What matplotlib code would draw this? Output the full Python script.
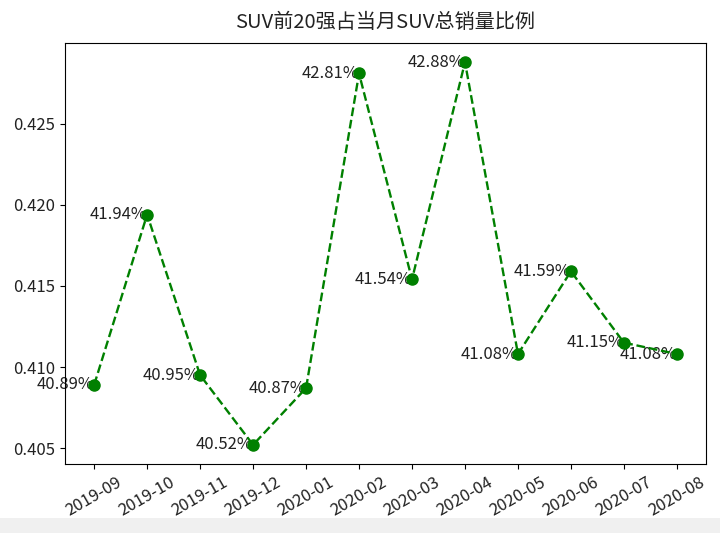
import matplotlib
matplotlib.use('Agg')
import matplotlib.pyplot as plt
from matplotlib.patches import Rectangle

plt.rcParams['font.family'] = ['Noto Sans CJK SC', 'DejaVu Sans']
plt.rcParams['axes.unicode_minus'] = False

months = ['2019-09', '2019-10', '2019-11', '2019-12', '2020-01', '2020-02',
          '2020-03', '2020-04', '2020-05', '2020-06', '2020-07', '2020-08']
ratios = [0.4089, 0.4194, 0.4095, 0.4052, 0.4087, 0.4281,
          0.4154, 0.4288, 0.4108, 0.4159, 0.4115, 0.4108]

fig = plt.figure(figsize=(7.2, 5.33), dpi=100)
ax = fig.add_axes([0.0903, 0.1295, 0.8903, 0.7898])

ax.plot(months, ratios, color='green', linestyle='--', marker='o',
        linewidth=1.7, markersize=8, zorder=2)
for m, r in zip(months, ratios):
    ax.text(m, r, f'{r * 100:.2f}%', ha='right', va='center', fontsize=12,
            color='#222222', zorder=1)

ax.set_title('SUV前20强占当月SUV总销量比例', fontsize=14.5, pad=11, color='#222222')
ax.set_yticks([0.405, 0.410, 0.415, 0.420, 0.425])
ax.set_yticklabels(['0.405', '0.410', '0.415', '0.420', '0.425'])
ax.tick_params(axis='both', labelsize=12, labelcolor='#222222')
plt.setp(ax.get_xticklabels(), rotation=30)

# grey strip at the bottom of the screenshot
fig.patches.append(Rectangle((0, 0), 1, 0.028, transform=fig.transFigure,
                             facecolor='#f0f0f0', edgecolor='none', zorder=0))

fig.savefig('out.png', dpi=100)
